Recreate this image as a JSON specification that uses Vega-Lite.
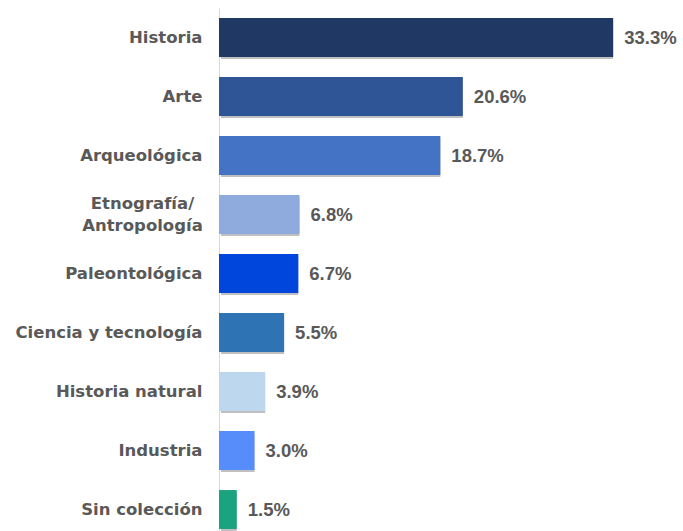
{
  "$schema": "https://vega.github.io/schema/vega-lite/v6.json",
  "width": 464,
  "height": 531,
  "autosize": {"type": "none"},
  "padding": {"left": 219, "top": 8, "right": 0, "bottom": 0},
  "background": "white",
  "config": {"view": {"stroke": null}},
  "data": {
    "values": [
      {"coleccion": "Historia", "pct": 33.3, "label": "33.3%", "color": "#203864"},
      {"coleccion": "Arte", "pct": 20.6, "label": "20.6%", "color": "#2F5597"},
      {"coleccion": "Arqueológica", "pct": 18.7, "label": "18.7%", "color": "#4472C4"},
      {"coleccion": "Etnografía/Antropología", "pct": 6.8, "label": "6.8%", "color": "#8FAADC"},
      {"coleccion": "Paleontológica", "pct": 6.7, "label": "6.7%", "color": "#0046DC"},
      {"coleccion": "Ciencia y tecnología", "pct": 5.5, "label": "5.5%", "color": "#2E74B5"},
      {"coleccion": "Historia natural", "pct": 3.9, "label": "3.9%", "color": "#BDD7EE"},
      {"coleccion": "Industria", "pct": 3.0, "label": "3.0%", "color": "#578DFB"},
      {"coleccion": "Sin colección", "pct": 1.5, "label": "1.5%", "color": "#1BA27E"}
    ]
  },
  "encoding": {
    "y": {
      "field": "coleccion",
      "type": "nominal",
      "sort": null,
      "scale": {"paddingInner": 0.34, "paddingOuter": 0.17},
      "axis": {
        "title": null,
        "ticks": false,
        "domain": true,
        "domainColor": "#D9D9D9",
        "domainWidth": 1,
        "labelFont": "DejaVu Sans",
        "labelFontWeight": "bold",
        "labelFontSize": 16.5,
        "labelColor": "#595959",
        "labelPadding": {"condition": {"test": "datum.value == 'Etnografía/Antropología'", "value": 77}, "value": 17},
        "labelAlign": {"condition": {"test": "datum.value == 'Etnografía/Antropología'", "value": "center"}, "value": "right"},
        "labelLineHeight": 22,
        "labelLimit": 300,
        "labelOffset": {"condition": {"test": "datum.value == 'Etnografía/Antropología'", "value": -11}, "value": 0},
        "labelExpr": "datum.value == 'Etnografía/Antropología' ? ['Etnografía/', 'Antropología'] : datum.value"
      }
    },
    "x": {
      "field": "pct",
      "type": "quantitative",
      "scale": {"domain": [0, 39.2], "nice": false, "zero": true},
      "axis": null
    }
  },
  "layer": [
    {
      "mark": {"type": "bar", "color": "#000000", "opacity": 0.25, "xOffset": 2, "yOffset": 2, "x": 1},
      "encoding": {"x2": {"field": "pct"}, "x": {"datum": 0}}
    },
    {
      "mark": {"type": "bar", "x": 1},
      "encoding": {
        "color": {"field": "color", "type": "nominal", "scale": null, "legend": null}
      }
    },
    {
      "mark": {"type": "text", "align": "left", "dx": 11, "font": "Liberation Sans", "fontWeight": "bold", "fontSize": 18.5, "color": "#595959"},
      "encoding": {"text": {"field": "label"}}
    }
  ]
}
